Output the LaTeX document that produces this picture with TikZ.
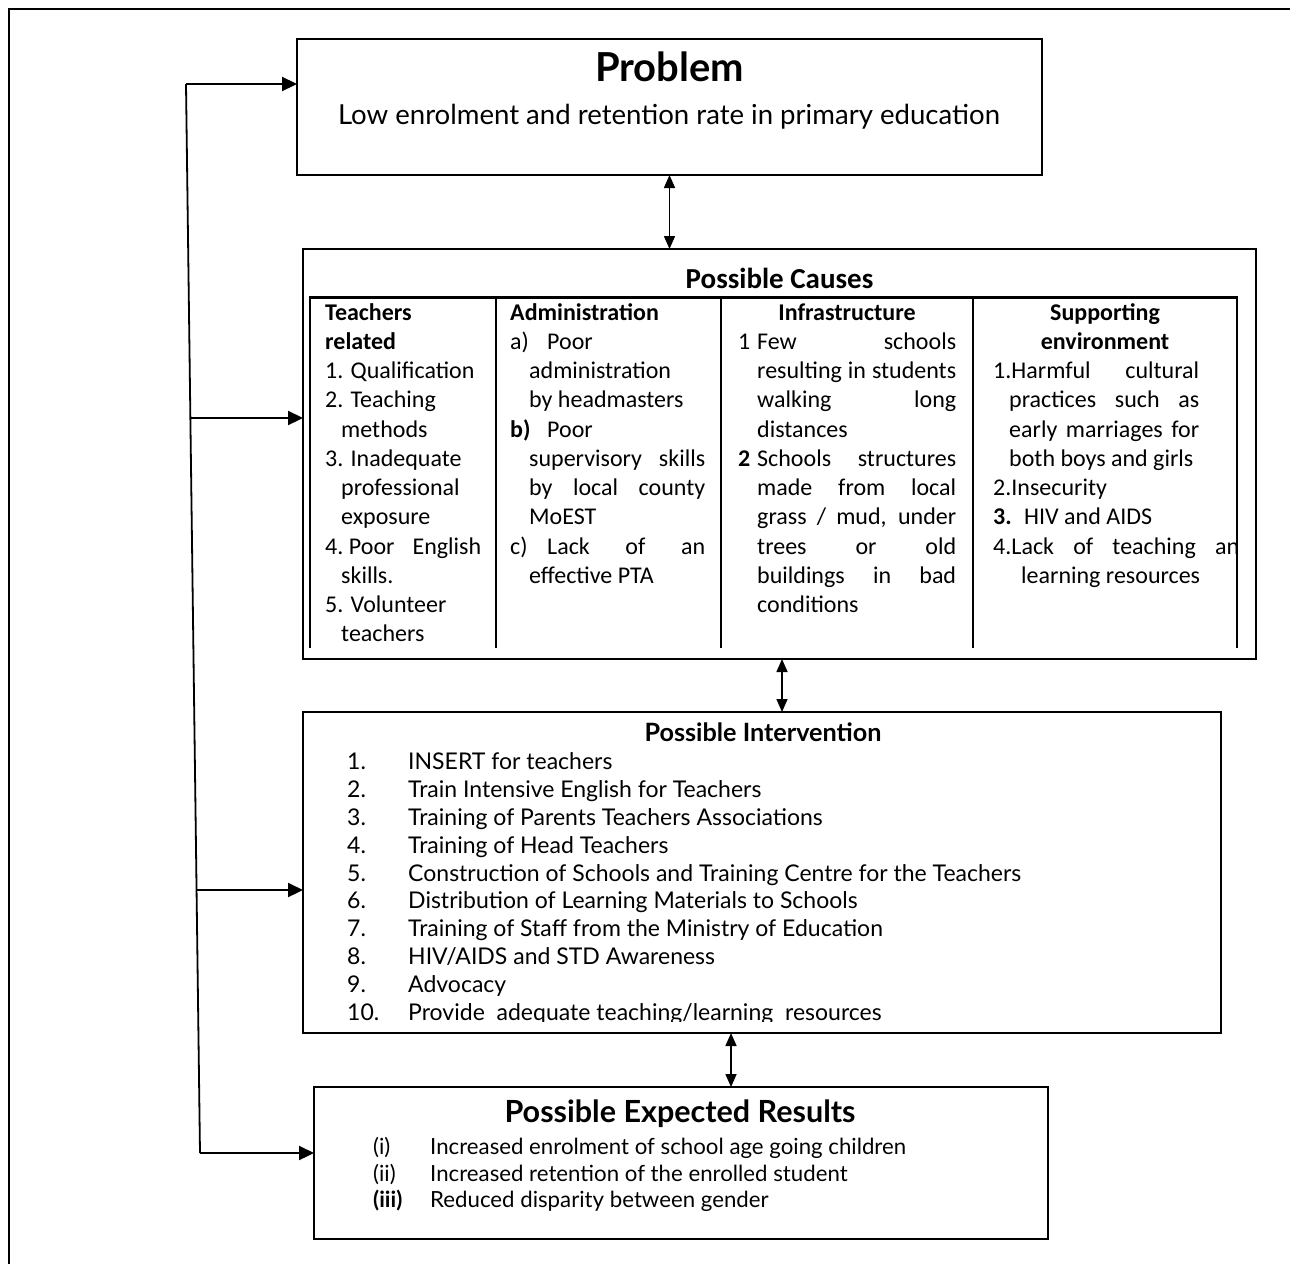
\documentclass[tikz,border=0pt]{standalone}
\usepackage{fontspec}
\setmainfont{Carlito}
\newfontfamily\gill{Lato}
\usetikzlibrary{arrows.meta,calc}
\newlength\fitw
\newcommand\fitsize[3]{\setbox0=\hbox{\fontsize{10pt}{12pt}\selectfont #3}\fitw=\wd0\relax\pgfmathsetmacro#1{10*#2/\fitw}}
\AtBeginDocument{%
\fitsize\gsProbT{149}{\gill\bfseries Problem}%
\fitsize\gsProb{662}{\gill Low enrolment and retention rate in primary education}%
\fitsize\gsIntT{237}{\gill\bfseries Possible Intervention}%
\fitsize\gsInt{613}{\gill Construction of Schools and Training Centre for the Teachers}%
\fitsize\gsResT{351}{\gill\bfseries Possible Expected Results}%
\fitsize\gsRes{476}{\gill Increased enrolment of school age going children}%
}
\newcounter{tn}
% column text line: [options]{x}{line index}{text}
\newcommand\C[4][]{\stepcounter{tn}\node[txt,#1] (t\arabic{tn}) at (#2,{320+29.25*(#3)}) {#4};}
% intervention line
\newcommand\IV[3]{\stepcounter{tn}\node[gsi] (n\arabic{tn}) at (347,{769.3+27.93*(#1)}) {#2};\stepcounter{tn}\node[gsi] (t\arabic{tn}) at (408,{769.3+27.93*(#1)}) {#3};}
\begin{document}
\begin{tikzpicture}[x=1pt,y=-1pt,
  box/.style={draw,line width=1.8pt,inner sep=0pt,outer sep=0pt},
  tbl/.style={line width=2.4pt},
  txt/.style={inner sep=0pt,anchor=base west,font=\fontsize{24}{29}\selectfont},
  arr/.style={-{Triangle[length=15pt,width=14pt]},line width=2.2pt},
  darr/.style={{Triangle[length=13pt,width=11pt]}-{Triangle[length=13pt,width=11pt]},line width=1.6pt},
  gsi/.style={inner sep=0pt,anchor=base west,font=\gill\fontsize{\gsInt}{\gsInt}\selectfont},
  gsr/.style={inner sep=0pt,anchor=base west,font=\gill\fontsize{\gsRes}{\gsRes}\selectfont}]
\useasboundingbox (0,0) rectangle (1290,1264);
\fill[white] (0,0) rectangle (1290,1264);
% outer frame
\draw[line width=2pt] (9,1264) -- (9,9) -- (1290,9);
% boxes
\node[box,minimum width=745pt,minimum height=136pt] (prob) at (669.5,107) {};
\node[box,minimum width=953pt,minimum height=410pt] (causes) at (779.5,454) {};
\node[box,minimum width=918pt,minimum height=321pt] (interv) at (762,872.5) {};
\node[box,minimum width=734pt,minimum height=152pt] (results) at (681,1163) {};
% problem text
\node[inner sep=0pt,anchor=base,font=\gill\bfseries\fontsize{\gsProbT}{\gsProbT}\selectfont] (probT) at (669.5,81) {Problem};
\node[inner sep=0pt,anchor=base,font=\gill\fontsize{\gsProb}{\gsProb}\selectfont] (probX) at (669,124) {Low enrolment and retention rate in primary education};
% causes
\node[inner sep=0pt,anchor=base,font=\bfseries\fontsize{29}{34}\selectfont] (causesT) at (779.5,288.3) {Possible Causes};
\draw[tbl] (310,648) -- (310,297.5) -- (1237,297.5) -- (1237,648);
\draw[tbl] (496,297.5) -- (496,648);
\draw[tbl] (721,297.5) -- (721,648);
\draw[tbl] (973,297.5) -- (973,648);
% column 1
\C{325}{0}{\textbf{Teachers}}
\C{325}{1}{\textbf{related}}
\C{325}{2}{1. Qualification}
\C{325}{3}{2. Teaching}
\C{341}{4}{methods}
\C{325}{5}{3. Inadequate}
\C{341}{6}{professional}
\C{341}{7}{exposure}
\C{325}{8}{\makebox[156pt][s]{4.\hspace{0.23em}Poor English}}
\C{341}{9}{skills.}
\C{325}{10}{5. Volunteer}
\C{341}{11}{teachers}
% column 2
\C{510}{0}{\textbf{Administration}}
\C{510}{1}{a)}
\C{547}{1}{Poor}
\C{529}{2}{administration}
\C{529}{3}{by headmasters}
\C{510}{4}{\textbf{b)}}
\C{547}{4}{Poor}
\C{529}{5}{\makebox[176pt][s]{supervisory skills}}
\C{529}{6}{\makebox[176pt][s]{by local county}}
\C{529}{7}{MoEST}
\C{510}{8}{c)}
\C{547}{8}{\makebox[158pt][s]{Lack of an}}
\C{529}{9}{effective PTA}
% column 3
\C[anchor=base]{847}{0}{\textbf{Infrastructure}}
\C{738}{1}{1}
\C{757}{1}{\makebox[199pt][s]{Few schools}}
\C{757}{2}{\makebox[199pt][s]{resulting in students}}
\C{757}{3}{\makebox[199pt][s]{walking long}}
\C{757}{4}{distances}
\C{738}{5}{\textbf{2}}
\C{757}{5}{\makebox[199pt][s]{Schools structures}}
\C{757}{6}{\makebox[199pt][s]{made from local}}
\C{757}{7}{\makebox[199pt][s]{grass / mud, under}}
\C{757}{8}{\makebox[199pt][s]{trees or old}}
\C{757}{9}{\makebox[199pt][s]{buildings in bad}}
\C{757}{10}{conditions}
% column 4
\C[anchor=base]{1105}{0}{\textbf{Supporting}}
\C[anchor=base]{1105}{1}{\textbf{environment}}
\C{993}{2}{\makebox[206pt][s]{1.Harmful cultural}}
\C{1009}{3}{\makebox[190pt][s]{practices such as}}
\C{1009}{4}{\makebox[190pt][s]{early marriages for}}
\C{1009}{5}{both boys and girls}
\C{993}{6}{2.Insecurity}
\C{993}{7}{\textbf{3.}}
\C{1024}{7}{HIV and AIDS}
\begin{scope}
\clip (980,520) rectangle (1239,560);
\C{993}{8}{\makebox[246pt][s]{4.Lack of teaching an}}
\end{scope}
\C{1021}{9}{learning resources}
% intervention
\node[inner sep=0pt,anchor=base,font=\gill\bfseries\fontsize{\gsIntT}{\gsIntT}\selectfont] (intT) at (763,741.7) {Possible Intervention};
\IV{0}{1.}{INSERT for teachers}
\IV{1}{2.}{Train Intensive English for Teachers}
\IV{2}{3.}{Training of Parents Teachers Associations}
\IV{3}{4.}{Training of Head Teachers}
\IV{4}{5.}{Construction of Schools and Training Centre for the Teachers}
\IV{5}{6.}{Distribution of Learning Materials to Schools}
\IV{6}{7.}{Training of Staff from the Ministry of Education}
\IV{7}{8.}{HIV/AIDS and STD Awareness}
\IV{8}{9.}{Advocacy}
\begin{scope}
\clip (300,990) rectangle (1215,1021.5);
\IV{9}{10.}{Provide\ \ adequate teaching/learning\ \ resources}
\end{scope}
% results
\node[inner sep=0pt,anchor=base,font=\gill\bfseries\fontsize{\gsResT}{\gsResT}\selectfont] (resT) at (680,1122) {Possible Expected Results};
\node[gsr] (r1n) at (373,1154) {(i)};
\node[gsr] (r1) at (430,1154) {Increased enrolment of school age going children};
\node[gsr] (r2n) at (373,1181) {(ii)};
\node[gsr] (r2) at (430,1181) {Increased retention of the enrolled student};
\node[gsr,font=\gill\bfseries\fontsize{\gsRes}{\gsRes}\selectfont] (r3n) at (373,1207) {(iii)};
\node[gsr] (r3) at (430,1207) {Reduced disparity between gender};
% vertical double arrows
\coordinate (a2) at (782,690);
\coordinate (a3) at (731,1060);
\draw[darr] (prob.south) -- (prob.south |- causes.north);
\draw[darr] (a2 |- causes.south) -- (a2 |- interv.north);
\draw[darr] (a3 |- interv.south) -- (a3 |- results.north);
% left feedback connector
\coordinate (L1) at (186,84);
\coordinate (L2) at (190.4,418);
\coordinate (L3) at (196.6,890);
\coordinate (L4) at (200,1153);
\draw[line width=1.8pt] (L1) -- (L4);
\draw[arr] (L1) -- (L1 -| prob.west);
\draw[arr] (L2) -- (L2 -| causes.west);
\draw[arr] (L3) -- (L3 -| interv.west);
\draw[arr] (L4) -- (L4 -| results.west);
\end{tikzpicture}
\end{document}
